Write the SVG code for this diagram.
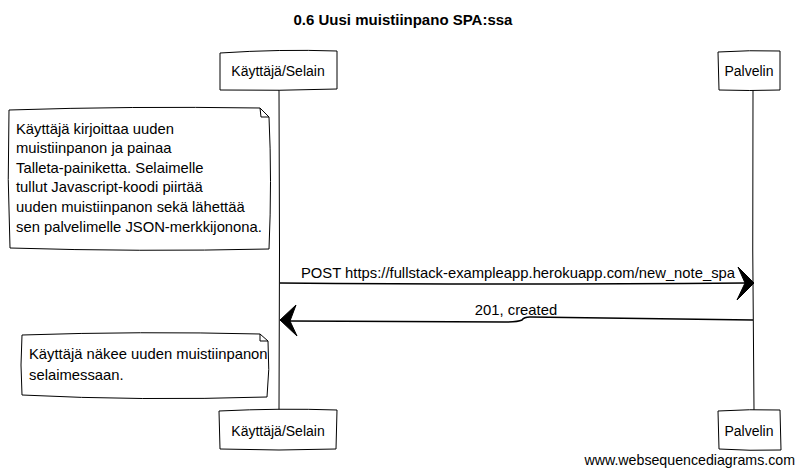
<svg xmlns="http://www.w3.org/2000/svg" width="805" height="475" viewBox="0 0 805 475">
<style>
text{font-family:"Liberation Sans",Arial,sans-serif;font-size:14.8px;fill:#000}
.title{font-size:15px;font-weight:bold}
.actor{font-size:14px}
.foot{font-size:14.2px}
.box{fill:#fff;stroke:#000;stroke-width:1}
.life{fill:none;stroke:#000;stroke-width:1}
.msg{fill:none;stroke:#000;stroke-width:1.5}
.head{fill:#000;stroke:#000;stroke-width:1}
</style>
<rect width="805" height="475" fill="#fff"/>
<text class="title" x="403" y="25" text-anchor="middle">0.6 Uusi muistiinpano SPA:ssa</text>

<g id="lifelines">
<path class="life" d="M279,90 Q280,250 279,410"/>
<path class="life" d="M753,90 Q752,250 754,410"/>
</g>

<g id="actor-user-top">
<path class="box" d="M220,53 Q280,49 337,51 L337,89 Q280,91 220,90 Z"/>
<text class="actor" x="278" y="76" text-anchor="middle">Käyttäjä/Selain</text>
</g>
<g id="actor-server-top">
<path class="box" d="M718,52 Q750,50 780,51 L780,90 Q750,91 719,90 Z"/>
<text class="actor" x="749" y="76" text-anchor="middle">Palvelin</text>
</g>

<g id="note-1">
<path class="box" d="M9,110 Q130,106 260,108 L269,117 Q272,180 269,249 Q140,252 10,248 Q7,180 9,110 Z"/>
<path class="life" d="M260,108 L261,117 L269,117"/>
<text x="16" y="134">Käyttäjä kirjoittaa uuden</text>
<text x="16" y="153">muistiinpanon ja painaa</text>
<text x="16" y="173">Talleta-painiketta. Selaimelle</text>
<text x="16" y="192">tullut Javascript-koodi piirtää</text>
<text x="16" y="212">uuden muistiinpanon sekä lähettää</text>
<text x="16" y="232">sen palvelimelle JSON-merkkijonona.</text>
</g>

<g id="connectors">
<path class="msg" d="M280,283 Q500,285 745,283"/>
<path class="head" d="M738,267 L754,283 L737,300 L745,283 Z"/>
<text x="518" y="278" text-anchor="middle">POST https://fullstack-exampleapp.herokuapp.com/new_note_spa</text>
<path class="msg" d="M753,320 L530,317 Q524,317 522,320 Q518,322 505,322 L290,321"/>
<path class="head" d="M296,305 L280,320 L297,336 L290,321 Z"/>
<text x="516" y="315" text-anchor="middle">201, created</text>
</g>

<g id="note-2">
<path class="box" d="M22,335 Q140,331 260,334 L268,341 Q270,370 267,397 Q140,401 22,395 Q20,365 22,335 Z"/>
<path class="life" d="M260,334 L260,341 L268,341"/>
<text x="29" y="359">Käyttäjä näkee uuden muistiinpanon</text>
<text x="29" y="380">selaimessaan.</text>
</g>

<g id="actor-user-bottom">
<path class="box" d="M219,411 Q280,408 337,410 L336,449 Q280,451 220,449 Z"/>
<text class="actor" x="278" y="436" text-anchor="middle">Käyttäjä/Selain</text>
</g>
<g id="actor-server-bottom">
<path class="box" d="M718,411 Q750,409 780,410 L781,450 Q750,451 719,449 Z"/>
<text class="actor" x="749" y="436" text-anchor="middle">Palvelin</text>
</g>

<text class="foot" x="795" y="465" text-anchor="end">www.websequencediagrams.com</text>
</svg>
